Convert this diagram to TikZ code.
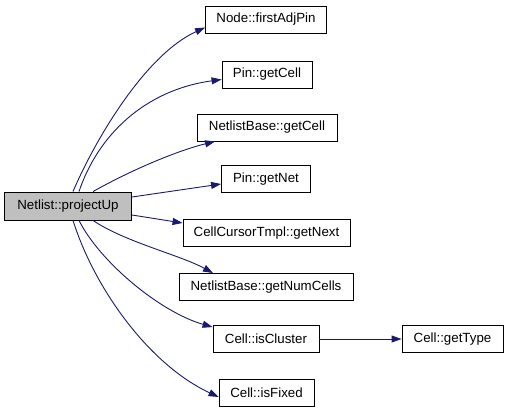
\documentclass[tikz,border=0pt]{standalone}
\usepackage{fontspec}
\setmainfont{Liberation Sans}
\usetikzlibrary{arrows.meta}
\definecolor{edgeblue}{HTML}{191970}
\begin{document}
\begin{tikzpicture}[x=1pt,y=-1pt,
  box/.style={draw=black,line width=0.9pt,fill=white,rectangle,inner sep=0pt,font=\fontsize{13.3}{15}\selectfont,minimum height=27pt},
  edge/.style={draw=edgeblue,line width=0.9pt,-{Triangle[length=10pt,width=7pt]}}]
\useasboundingbox (0,0) rectangle (509,413);
\node[box,fill={rgb,255:red,191;green,191;blue,191},minimum width=127pt,minimum height=28pt] (pu) at (68,206) {Netlist::projectUp};
\node[box,minimum width=121pt] (n1) at (266,19.5) {Node::firstAdjPin};
\node[box,minimum width=90pt] (n2) at (267,74.5) {Pin::getCell};
\node[box,minimum width=140pt] (n3) at (267,127.5) {NetlistBase::getCell};
\node[box,minimum width=89pt] (n4) at (266,179) {Pin::getNet};
\node[box,minimum width=167pt] (n5) at (266.5,233) {CellCursorTmpl::getNext};
\node[box,minimum width=174pt] (n6) at (266,287) {NetlistBase::getNumCells};
\node[box,minimum width=106pt] (n7) at (266,339) {Cell::isCluster};
\node[box,minimum width=101pt] (n8) at (452.5,339) {Cell::getType};
\node[box,minimum width=95pt] (n9) at (266.5,393) {Cell::isFixed};
\draw[edge] ([xshift=5pt]pu.north) .. controls (95,140) and (145,55) .. ([yshift=-8pt]n1.west);
\draw[edge] ([xshift=11pt]pu.north) .. controls (98,135) and (145,90) .. ([yshift=-5pt]n2.west);
\draw[edge] ([xshift=25pt]pu.north) .. controls (135,168) and (180,150) .. ([xshift=-52pt]n3.south);
\draw[edge] ([yshift=9pt]pu.east) -- ([yshift=-5pt]n4.west);
\draw[edge] ([yshift=-9pt]pu.east) -- ([yshift=10pt]n5.west);
\draw[edge] ([xshift=25pt]pu.south) .. controls (125,242) and (180,255) .. ([xshift=-53pt]n6.north);
\draw[edge] ([xshift=11pt]pu.south) .. controls (100,262) and (160,312) .. ([yshift=-2pt]n7.north west);
\draw[edge] ([xshift=5pt]pu.south) .. controls (95,290) and (150,365) .. ([yshift=-4pt]n9.west);
\draw[edge] (n7) -- (n8);
\end{tikzpicture}
\end{document}
